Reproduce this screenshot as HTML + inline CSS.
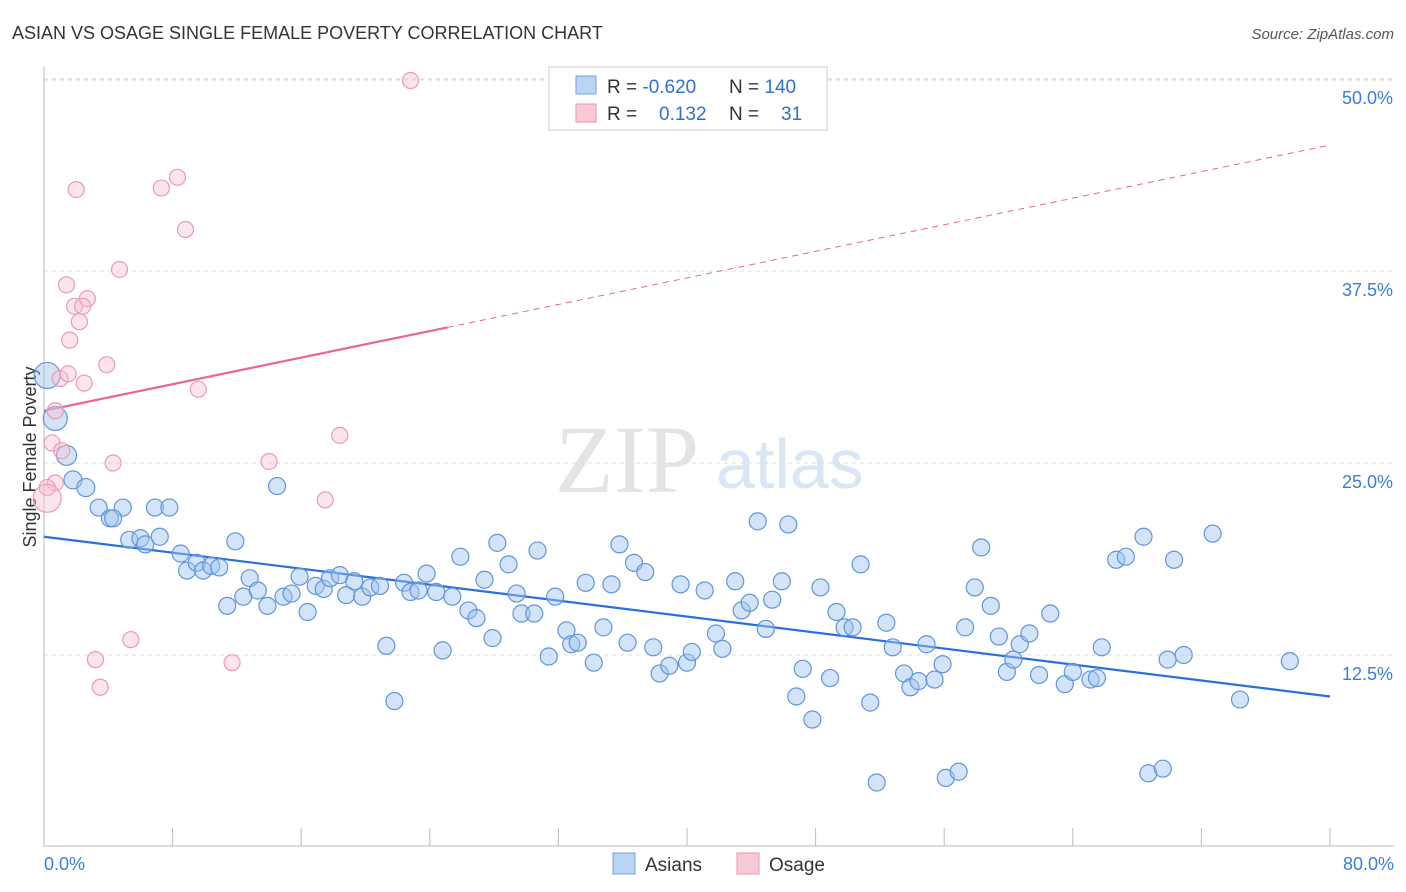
<!DOCTYPE html>
<html><head><meta charset="utf-8"><style>
body{margin:0;background:#fff;font-family:"Liberation Sans",sans-serif;}
#wrap{position:relative;width:1406px;height:892px;overflow:hidden;}
</style></head><body>
<div id="wrap">
<svg id="svg" width="1406" height="892" xmlns="http://www.w3.org/2000/svg">
<text x="12" y="39" font-size="18" fill="#333">ASIAN VS OSAGE SINGLE FEMALE POVERTY CORRELATION CHART</text>
<text x="1394" y="39" font-size="15" fill="#555" text-anchor="end" font-style="italic">Source: ZipAtlas.com</text>
<text x="36" y="457" font-size="18" fill="#333" text-anchor="middle" transform="rotate(-90 36 457)">Single Female Poverty</text>
<text x="555" y="492" font-size="96" fill="#e4e4e4" font-family="Liberation Serif,serif">ZIP</text>
<text x="716" y="488" font-size="70" fill="#d8e6f6">atlas</text>
<g id="grid"></g><g id="axes"></g><g id="trend"></g><g id="pts"></g>
<g>
<rect x="549" y="67" width="278" height="63" fill="#fff" stroke="#ccc"/>
<rect x="576" y="76" width="20" height="18" fill="#bcd4f4" stroke="#6fa0e0"/>
<rect x="576" y="104" width="20" height="18" fill="#f9c9d6" stroke="#ea95ae"/>
<text x="607" y="93" font-size="19" fill="#333">R = <tspan fill="#2f6fd6">-0.620</tspan><tspan x="729">N = </tspan><tspan fill="#2f6fd6">140</tspan></text>
<text x="607" y="120" font-size="19" fill="#333">R = <tspan x="659" fill="#2f6fd6">0.132</tspan><tspan x="729">N = </tspan><tspan x="781" fill="#2f6fd6">31</tspan></text>
</g>
<g>
<rect x="613" y="853" width="22" height="21" fill="#bcd4f4" stroke="#6fa0e0"/>
<text x="645" y="871" font-size="19" fill="#333">Asians</text>
<rect x="737" y="853" width="22" height="21" fill="#f9c9d6" stroke="#ea95ae"/>
<text x="769" y="871" font-size="19" fill="#333">Osage</text>
</g>
</svg>
</div>
<script>
const yTicks=[12.5,25.0,37.5,50.0];
const yTickLabels=["12.5%","25.0%","37.5%","50.0%"];
const xTicks=[0,8,16,24,32,40,48,56,64,72,80];
const xEndLabels=["0.0%","80.0%"];
const asianX=[0.2,0.7,1.4,1.8,2.6,3.4,4.1,4.9,4.3,5.3,6.0,6.3,6.9,7.2,7.8,8.5,8.9,9.5,9.9,10.4,10.9,11.4,11.9,12.4,12.8,13.3,13.9,14.5,14.9,15.4,15.9,16.4,16.9,17.4,17.8,18.4,18.8,19.3,19.8,20.3,20.9,21.3,21.8,22.4,22.8,23.3,23.8,24.4,24.8,25.4,25.9,26.4,26.9,27.4,27.9,28.2,28.9,29.4,29.7,30.5,30.7,31.4,31.8,32.5,32.8,33.2,33.7,34.2,34.8,35.3,35.8,36.3,36.7,37.4,37.9,38.3,38.9,39.6,40.0,40.3,41.1,41.8,42.2,43.0,43.4,43.9,44.4,44.9,45.3,45.9,46.3,46.8,47.2,47.8,48.3,48.9,49.3,49.8,50.3,50.8,51.4,51.8,52.4,52.8,53.5,53.9,54.4,54.9,55.4,55.9,56.1,56.9,57.3,57.9,58.3,58.9,59.4,59.9,60.3,60.7,61.3,61.9,62.6,63.5,64.0,65.1,65.5,65.8,66.7,67.3,68.4,68.7,69.6,69.9,70.3,70.9,72.7,74.4,77.5];
const asianY=[30.7,27.9,25.5,23.9,23.4,22.1,21.4,22.1,21.4,20.0,20.1,19.7,22.1,20.2,22.1,19.1,18.0,18.5,18.0,18.3,18.2,15.7,19.9,16.3,17.5,16.7,15.7,23.5,16.3,16.5,17.6,15.3,17.0,16.8,17.5,17.7,16.4,17.3,16.3,16.9,17.0,13.1,9.5,17.2,16.6,16.7,17.8,16.6,12.8,16.3,18.9,15.4,14.9,17.4,13.6,19.8,18.4,16.5,15.2,15.2,19.3,12.4,16.3,14.1,13.2,13.3,17.2,12.0,14.3,17.1,19.7,13.3,18.5,17.9,13.0,11.3,11.8,17.1,12.0,12.7,16.7,13.9,12.9,17.3,15.4,15.9,21.2,14.2,16.1,17.3,21.0,9.8,11.6,8.3,16.9,11.0,15.3,14.3,14.3,18.4,9.4,4.2,14.6,13.0,11.3,10.4,10.8,13.2,10.9,11.9,4.5,4.9,14.3,16.9,19.5,15.7,13.7,11.4,12.2,13.2,13.9,11.2,15.2,10.6,11.4,10.9,11.0,13.0,18.7,18.9,20.2,4.8,5.1,12.2,18.7,12.5,20.4,9.6,12.1];
const osageX=[22.8,2.0,7.3,8.3,8.8,4.7,1.4,1.9,2.7,2.4,2.2,1.6,3.9,1.0,1.5,2.5,9.6,0.7,18.4,0.5,1.1,4.3,14.0,0.7,0.2,0.2,17.5,5.4,3.2,11.7,3.5];
const osageY=[49.9,42.8,42.9,43.6,40.2,37.6,36.6,35.2,35.7,35.2,34.2,33.0,31.4,30.5,30.8,30.2,29.8,28.4,26.8,26.3,25.8,25.0,25.1,23.7,23.4,22.7,22.6,13.5,12.2,12.0,10.4];
const asianTrend=[20.2,9.8];
const osageTrend=[28.4,45.7];
const osageSolidEnd=25.1;

const NS="http://www.w3.org/2000/svg";
const X=v=>44+v/80*1286;
const Y=v=>847-v/12.5*192;
function mk(tag,attrs,parent){const e=document.createElementNS(NS,tag);for(const k in attrs)e.setAttribute(k,attrs[k]);parent.appendChild(e);return e;}
const grid=document.getElementById('grid'),axes=document.getElementById('axes'),trend=document.getElementById('trend'),pts=document.getElementById('pts');
yTicks.forEach((t,i)=>{
 const l=mk('line',{x1:44,x2:1394,y1:Y(t),y2:Y(t),stroke:'#ddd','stroke-dasharray':'4,4'},grid);
 
 
 const tx=mk('text',{x:1393,y:Y(t)+25,'font-size':18,fill:'#3b7ddd','text-anchor':'end'},axes);
 tx.textContent=yTickLabels[i];
 
 
});
const tg=mk('line',{x1:44,x2:1394,y1:Y(50)+1,y2:Y(50)+1,stroke:'#ddd','stroke-dasharray':'4,4'},grid);


const ya=mk('line',{x1:44,x2:44,y1:67,y2:847,stroke:'#bbb'},axes);


const xa=mk('line',{x1:44,x2:1394,y1:846,y2:846,stroke:'#bbb'},axes);


xTicks.forEach(t=>{
 const l=mk('line',{x1:X(t),x2:X(t),y1:828,y2:846,stroke:'#bbb'},axes);
 
 
});
const xl0=mk('text',{x:44,y:870,'font-size':18,fill:'#3b7ddd'},axes);xl0.textContent=xEndLabels[0];


const xl1=mk('text',{x:1394,y:870,'font-size':18,fill:'#3b7ddd','text-anchor':'end'},axes);xl1.textContent=xEndLabels[1];



asianX.forEach((x,i)=>{
 const r=[13,12,10,9,9][i]||8.5;
 const c=mk('circle',{cx:X(x),cy:Y(asianY[i]),r:r,fill:'rgba(160,195,240,0.45)',stroke:'#5f95dd','stroke-width':1.2},pts);
 
 
});
osageX.forEach((x,i)=>{
 const r=(i===25)?14:8;
 const c=mk('circle',{cx:X(x),cy:Y(osageY[i]),r:r,fill:'rgba(248,190,208,0.4)',stroke:'#ec9ab3','stroke-width':1.2},pts);
 
 
});
const at=mk('line',{x1:X(0),y1:Y(asianTrend[0]),x2:X(80),y2:Y(asianTrend[1]),stroke:'#2a6fdb','stroke-width':2.2},trend);


const oy=v=>osageTrend[0]+(osageTrend[1]-osageTrend[0])*v/80;
const os=mk('line',{x1:X(0),y1:Y(osageTrend[0]),x2:X(osageSolidEnd),y2:Y(oy(osageSolidEnd)),stroke:'#e8668f','stroke-width':2.2},trend);


const od=mk('line',{x1:X(osageSolidEnd),y1:Y(oy(osageSolidEnd)),x2:X(80),y2:Y(osageTrend[1]),stroke:'#e8668f','stroke-width':1,'stroke-dasharray':'6,5'},trend);


</script>
</body></html>
